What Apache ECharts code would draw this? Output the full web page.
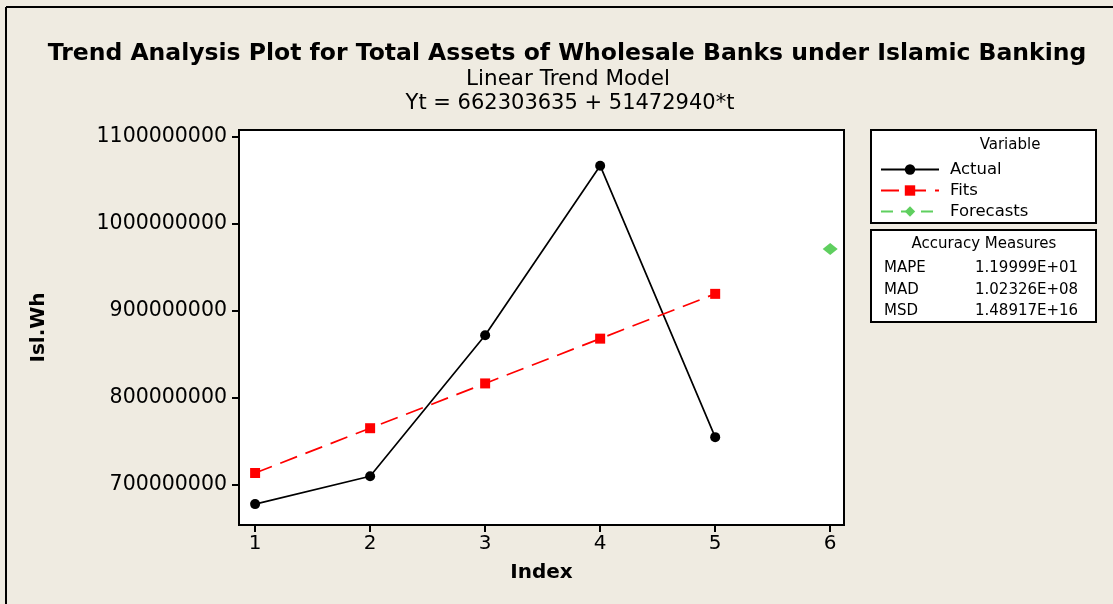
<!DOCTYPE html>
<html>
<head>
<meta charset="utf-8">
<script src="https://cdn.jsdelivr.net/npm/echarts@6/dist/echarts.min.js"></script>
<style>
html, body { margin: 0; padding: 0; background: #efebe1; }
#main { width: 1113px; height: 604px; }
</style>
</head>
<body>
<div id="main"></div>
<script>
// 数据
var indexValues = [1, 2, 3, 4, 5];
var actualValues = [678000000, 710000000, 872000000, 1067000000, 755000000];
var fitsValues = [713776575, 765249515, 816722455, 868195395, 919668335];
var forecastIndex = [6];
var forecastValues = [971141275];
var xTicks = [1, 2, 3, 4, 5, 6];
var yTicks = [700000000, 800000000, 900000000, 1000000000, 1100000000];
var accuracyNames = ['MAPE', 'MAD', 'MSD'];
var accuracyValues = ['1.19999E+01', '1.02326E+08', '1.48917E+16'];

var font = 'DejaVu Sans';

function pairs(xs, ys) {
    return xs.map(function (x, i) { return [x, ys[i]]; });
}

var chart = echarts.init(document.getElementById('main'), null, { renderer: 'canvas' });

var graphics = [
    // 外框（左、上）
    { type: 'line', shape: { x1: 6, y1: 7, x2: 6, y2: 604 }, style: { stroke: '#000', lineWidth: 2 } },
    { type: 'line', shape: { x1: 6, y1: 7, x2: 1113, y2: 7 }, style: { stroke: '#000', lineWidth: 2 } },
    // 图例框
    { type: 'rect', shape: { x: 871, y: 130, width: 225, height: 93 }, style: { fill: '#fff', stroke: '#000', lineWidth: 2 } },
    { type: 'text', x: 1010, y: 138, style: { text: 'Variable', font: '15px "' + font + '"', fill: '#000', textAlign: 'center' } },
    // 精度框
    { type: 'rect', shape: { x: 871, y: 230, width: 225, height: 92 }, style: { fill: '#fff', stroke: '#000', lineWidth: 2 } },
    { type: 'text', x: 984, y: 237, style: { text: 'Accuracy Measures', font: '15px "' + font + '"', fill: '#000', textAlign: 'center' } }
];
accuracyNames.forEach(function (name, i) {
    graphics.push({ type: 'text', x: 884, y: 261 + i * 21.5, style: { text: name, font: '15px "' + font + '"', fill: '#000' } });
    graphics.push({ type: 'text', x: 975, y: 261 + i * 21.5, style: { text: accuracyValues[i], font: '15px "' + font + '"', fill: '#000' } });
});

var option = {
    backgroundColor: '#efebe1',
    animation: false,
    textStyle: { fontFamily: font },
    title: [
        {
            text: 'Trend Analysis Plot for Total Assets of Wholesale Banks under Islamic Banking',
            left: 562, top: 37, textAlign: 'center',
            textStyle: { fontSize: 23.5, fontWeight: 'bold', color: '#000', fontFamily: font }
        },
        {
            text: 'Linear Trend Model',
            left: 563, top: 63, textAlign: 'center',
            textStyle: { fontSize: 21.5, fontWeight: 'normal', color: '#000', fontFamily: font }
        },
        {
            text: 'Yt = 662303635 + 51472940*t',
            left: 565, top: 88, textAlign: 'center',
            textStyle: { fontSize: 21, fontWeight: 'normal', color: '#000', fontFamily: font }
        }
    ],
    grid: {
        left: 239, top: 130, right: 269, bottom: 79,
        show: true, backgroundColor: '#fff', borderColor: '#000', borderWidth: 2
    },
    legend: {
        orient: 'vertical',
        left: 875, top: 156,
        itemWidth: 58, itemHeight: 13, itemGap: 4,
        textStyle: { fontSize: 16.5, color: '#000', fontFamily: font, padding: [0, 0, 0, 6] },
        data: ['Actual', 'Fits', 'Forecasts']
    },
    xAxis: {
        type: 'value',
        min: 0.86, max: 6.12,
        name: 'Index', nameLocation: 'middle', nameGap: 38,
        nameTextStyle: { fontSize: 20, fontWeight: 'bold', color: '#000' },
        axisLine: { show: true, lineStyle: { color: '#000', width: 2 } },
        axisTick: { show: true, length: 7, customValues: xTicks, lineStyle: { color: '#000', width: 2 } },
        axisLabel: { customValues: xTicks, fontSize: 20, color: '#000', margin: 9 },
        splitLine: { show: false }
    },
    yAxis: {
        type: 'value',
        min: 654000000, max: 1108000000,
        name: 'Isl.Wh', nameLocation: 'middle', nameGap: 190, nameRotate: 90,
        nameTextStyle: { fontSize: 20, fontWeight: 'bold', color: '#000' },
        axisLine: { show: true, lineStyle: { color: '#000', width: 2 } },
        axisTick: { show: true, length: 7, customValues: yTicks, lineStyle: { color: '#000', width: 2 } },
        axisLabel: {
            customValues: yTicks, fontSize: 20.5, color: '#000', margin: 12,
            formatter: function (v) { return String(v); }
        },
        splitLine: { show: false }
    },
    series: [
        {
            name: 'Actual', type: 'line',
            data: pairs(indexValues, actualValues),
            symbol: 'circle', symbolSize: 10,
            itemStyle: { color: '#000' },
            lineStyle: { color: '#000', width: 1.7 }
        },
        {
            name: 'Fits', type: 'line',
            data: pairs(indexValues, fitsValues),
            symbol: 'rect', symbolSize: 10,
            itemStyle: { color: '#ff0000' },
            lineStyle: { color: '#ff0000', width: 1.7, type: [18, 9] }
        },
        {
            name: 'Forecasts', type: 'line',
            data: pairs(forecastIndex, forecastValues),
            symbol: 'diamond', symbolSize: [15, 12],
            itemStyle: { color: '#5fcf5f' },
            lineStyle: { color: '#5fcf5f', width: 1.7, type: [12, 8] }
        }
    ],
    graphic: graphics
};

chart.setOption(option);
</script>
</body>
</html>
